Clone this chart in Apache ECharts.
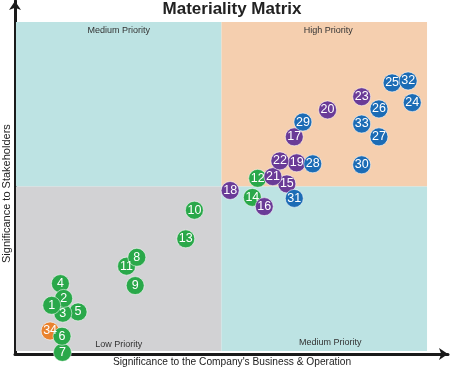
<!DOCTYPE html>
<html><head><meta charset="utf-8">
<script src="https://cdn.jsdelivr.net/npm/echarts@6/dist/echarts.min.js"></script>
<style>html,body{margin:0;padding:0;background:#fff}#c{width:450px;height:368px}</style>
</head><body><div id="c"></div>
<script>
// Issue numbers, positions (0-10 scales) and groups
const ids = [1,2,3,4,5,6,7,8,9,10,11,12,13,14,15,16,17,18,19,20,21,22,23,24,25,26,27,28,29,30,31,32,33,34];
const xs = [0.87,1.16,1.14,1.08,1.51,1.12,1.13,2.94,2.90,4.34,2.69,5.88,4.13,5.75,6.59,6.04,6.77,5.21,6.83,7.58,6.25,6.42,8.41,9.64,9.15,8.83,8.83,7.22,6.98,8.41,6.77,9.54,8.41,0.83];
const ys = [1.39,1.60,1.15,2.05,1.19,0.45,-0.04,2.85,1.99,4.28,2.58,5.25,3.41,4.67,5.08,4.39,6.51,4.88,5.72,7.33,5.30,5.78,7.73,7.55,8.15,7.36,6.51,5.69,6.96,5.66,4.64,8.21,6.90,0.61];
const groups = ['g','g','g','g','g','g','g','g','g','g','g','g','g','g','p','p','p','p','p','p','p','p','p','b','b','b','b','b','b','b','b','b','b','o'];
const groupOrder = ['o','g','p','b'];
const reversedGroups = ['g'];
const groupColors = {g:'#2AA84A', p:'#6A3B97', b:'#1C6CB5', o:'#E9822E'};
const quadrantLabels = ['Medium Priority','High Priority','Low Priority','Medium Priority'];
const titleText = 'Materiality Matrix';
const xName = "Significance to the Company's Business & Operation";
const yName = 'Significance to Stakeholders';

const chart = echarts.init(document.getElementById('c'));
const series = groupOrder.map((g, gi) => {
  let data = [];
  ids.forEach((id, i) => { if (groups[i] === g) data.push([xs[i], ys[i], id]); });
  if (reversedGroups.includes(g)) data = data.reverse();
  const s = {
    type: 'scatter', data, symbolSize: 18, z: 5,
    itemStyle: { color: groupColors[g], borderColor: 'rgba(255,255,255,0.55)', borderWidth: 1, opacity: 1 },
    label: { show: true, position: 'inside', color: '#fff', fontSize: 12.5,
      fontFamily: '"Liberation Sans Narrow", "Liberation Sans", Arial, sans-serif',
      formatter: p => String(p.value[2]) }
  };
  if (gi === 0) {
    s.markArea = {
      silent: true, z: 1,
      label: { fontSize: 9, color: '#333', fontFamily: '"Liberation Sans", Arial, sans-serif' },
      data: [
        [{ xAxis: 0, yAxis: 5, itemStyle: { color: '#BDE3E3' }, label: { position: 'insideTop', distance: 4, formatter: quadrantLabels[0] } }, { xAxis: 5, yAxis: 10 }],
        [{ xAxis: 5, yAxis: 5, itemStyle: { color: '#F5CFAF' }, label: { position: 'insideTop', distance: 4, offset: [4, 0], formatter: quadrantLabels[1] } }, { xAxis: 10, yAxis: 10 }],
        [{ xAxis: 0, yAxis: 0, itemStyle: { color: '#D2D2D4' }, label: { position: 'insideBottom', distance: 2, formatter: quadrantLabels[2] } }, { xAxis: 5, yAxis: 5 }],
        [{ xAxis: 5, yAxis: 0, itemStyle: { color: '#BDE3E3' }, label: { position: 'insideBottom', distance: 4, offset: [6, 0], formatter: quadrantLabels[3] } }, { xAxis: 10, yAxis: 5 }]
      ]
    };
  }
  return s;
});

chart.setOption({
  animation: false,
  title: { text: titleText, left: 232, top: 1, padding: 0, textAlign: 'center',
    textStyle: { fontSize: 17, fontWeight: 'bold', color: '#222', fontFamily: '"Liberation Sans", Arial, sans-serif' } },
  grid: { left: 15, right: 2, top: 1, bottom: 14 },
  xAxis: { type: 'value', min: -0.024, max: 10.51, splitLine: { show: false },
    axisTick: { show: false }, axisLabel: { show: false },
    axisLine: { show: true, onZero: false, lineStyle: { color: '#1a1a1a', width: 3 }, symbol: ['none', 'arrow'], symbolSize: [9, 9] } },
  yAxis: { type: 'value', min: -0.09, max: 10.64, splitLine: { show: false },
    axisTick: { show: false }, axisLabel: { show: false },
    axisLine: { show: true, onZero: false, lineStyle: { color: '#1a1a1a', width: 3 }, symbol: ['none', 'arrow'], symbolSize: [9, 9] } },
  graphic: [
    { type: 'text', x: 232, y: 357, style: { text: xName, align: 'center', fontSize: 10.2, fill: '#222', fontFamily: '"Liberation Sans", Arial, sans-serif' } },
    { type: 'text', x: 1, y: 263, rotation: Math.PI / 2, style: { text: yName, fontSize: 11, fill: '#222', fontFamily: '"Liberation Sans", Arial, sans-serif' } }
  ],
  series
});
</script></body></html>
